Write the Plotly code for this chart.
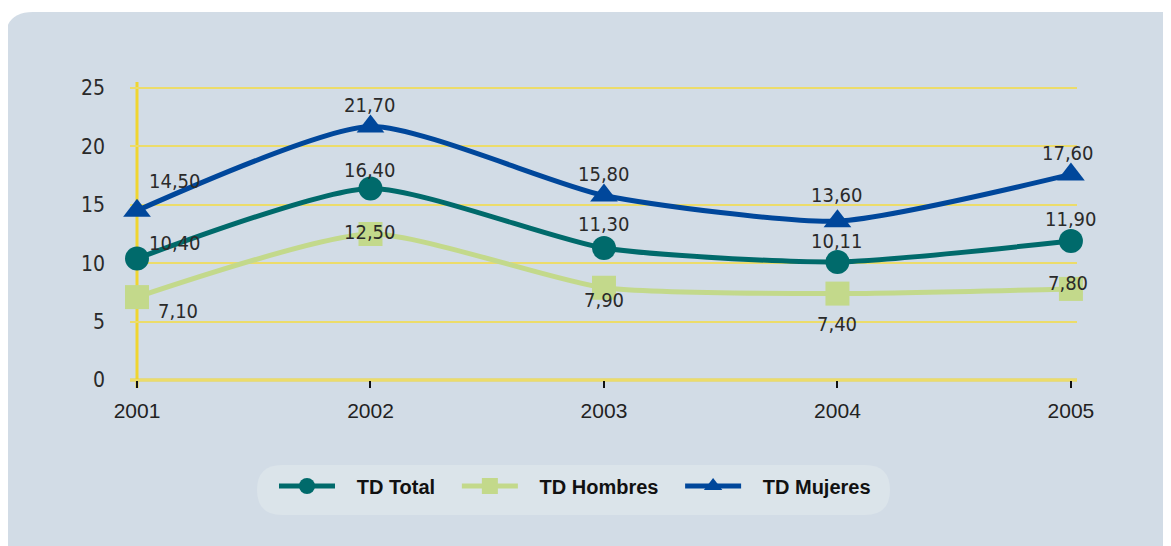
import plotly.graph_objects as go

years = [2001, 2002, 2003, 2004, 2005]
td_total = [10.40, 16.40, 11.30, 10.11, 11.90]
td_hombres = [7.10, 12.50, 7.90, 7.40, 7.80]
td_mujeres = [14.50, 21.70, 15.80, 13.60, 17.60]
y_ticks = [0, 5, 10, 15, 20, 25]
series_names = ["TD Total", "TD Hombres", "TD Mujeres"]

OFF = 8  # page body margin
W, H = 1171, 546
L, R, T, B = 130 - OFF, 94 + OFF, 82 - OFF, 158 + OFF
PW, PH = W - L - R, H - T - B

def px(xs, ys):
    xf, yf = xs - OFF, ys - OFF
    return (xf - L) / PW, (H - B - yf) / PH

def fmt(v):
    return f"{v:.2f}".replace(".", ",")

NB = "\u00a0"
COND = "'DejaVu Sans Condensed', 'Liberation Sans Narrow', 'Arial Narrow', sans-serif"
colors = ["#006a6b", "#c3d98b", "#00479b"]
symbols = ["circle", "square", "triangle-up"]

fig = go.Figure()
for name, vals, c, s in zip(series_names, [td_total, td_hombres, td_mujeres], colors, symbols):
    fig.add_trace(go.Scatter(
        x=years, y=vals, name=NB * 3 + name + NB * 3, mode="lines+markers",
        line=dict(color=c, width=5, shape="spline", smoothing=0.6),
        marker=dict(color=c, size=24, symbol=s, line=dict(width=0)),
        cliponaxis=False,
    ))

# label offsets (pixels) per series
shifts = {
    "TD Total": [(38, 16), (0, 18), (0, 24), (0, 21), (0, 22)],
    "TD Hombres": [(41, -14), (0, 2), (0, -12), (0, -30), (-3, 6)],
    "TD Mujeres": [(38, 30), (0, 22), (0, 21), (0, 26), (-3, 21)],
}
annotations = []
for name, vals in zip(series_names, [td_total, td_hombres, td_mujeres]):
    for xv, yv, (xs, ys) in zip(years, vals, shifts[name]):
        annotations.append(dict(
            x=xv, y=yv, xref="x", yref="y", text=fmt(yv), showarrow=False,
            xshift=xs, yshift=ys,
            font=dict(family=COND, size=20, color="#2a2a2a"),
        ))

# card background with rounded top-left corner
x0, y0 = px(5, 12)
xr, yb = px(1190, 570)
xq, yq = px(5, 12)
xa, ya = px(5, 40)
xb, yb2 = px(33, 12)
card = f"M {x0},{yb} L {xa},{ya} Q {xq},{yq} {xb},{yb2} L {xr},{yb2} L {xr},{yb} Z"

def pill(x1, y1, x2, y2, r):
    a = px(x1 + r, y1); b = px(x2 - r, y1); c = px(x2, y1); d = px(x2, y1 + r)
    e = px(x2, y2 - r); f = px(x2, y2); g = px(x2 - r, y2); h = px(x1 + r, y2)
    i = px(x1, y2); j = px(x1, y2 - r); k = px(x1, y1 + r); l = px(x1, y1)
    return (f"M {a[0]},{a[1]} L {b[0]},{b[1]} Q {c[0]},{c[1]} {d[0]},{d[1]} "
            f"L {e[0]},{e[1]} Q {f[0]},{f[1]} {g[0]},{g[1]} L {h[0]},{h[1]} "
            f"Q {i[0]},{i[1]} {j[0]},{j[1]} L {k[0]},{k[1]} Q {l[0]},{l[1]} {a[0]},{a[1]} Z")

shapes = [
    dict(type="path", path=card, xref="paper", yref="paper", fillcolor="#d2dce6",
         line=dict(width=0), layer="below"),
    dict(type="path", path=pill(257, 465, 890, 515, 25), xref="paper", yref="paper",
         fillcolor="#dbe4ea", line=dict(width=0), layer="below"),
    dict(type="line", xref="x", yref="paper", x0=2001, x1=2001, y0=0, y1=1,
         line=dict(color="#f0d530", width=3), layer="below"),
    dict(type="line", xref="paper", yref="y", x0=0, x1=1, y0=0, y1=0,
         line=dict(color="#f0d530", width=3), layer="below"),
]

fig.update_layout(
    width=W, height=H,
    margin=dict(l=L, r=R, t=T, b=B),
    paper_bgcolor="white", plot_bgcolor="rgba(0,0,0,0)",
    showlegend=True,
    legend=dict(orientation="h", x=px(274, 0)[0], xanchor="left", y=px(0, 486)[1], yanchor="middle",
                font=dict(family="Liberation Sans, Arial, sans-serif", size=20, color="#111",
                          weight="bold"),
                bgcolor="rgba(0,0,0,0)", itemwidth=56, traceorder="normal"),
    shapes=shapes, annotations=annotations,
    xaxis=dict(range=[2000.97, 2005.026], tickvals=years, showgrid=False, zeroline=False,
               showline=False, ticks="inside", ticklen=7, tickwidth=2, tickcolor="#111",
               tickfont=dict(family="Liberation Sans, Arial, sans-serif", size=21, color="#222"),
               ticklabelstandoff=8),
    yaxis=dict(range=[-0.68, 25.51], tickvals=y_ticks, showgrid=True, gridcolor="#ecdc6a",
               gridwidth=1.5, zeroline=False, showline=False, ticks="",
               tickfont=dict(family=COND, size=21, color="#2a2a2a"),
               ticklabelstandoff=24),
)
fig.write_html("out.html")
